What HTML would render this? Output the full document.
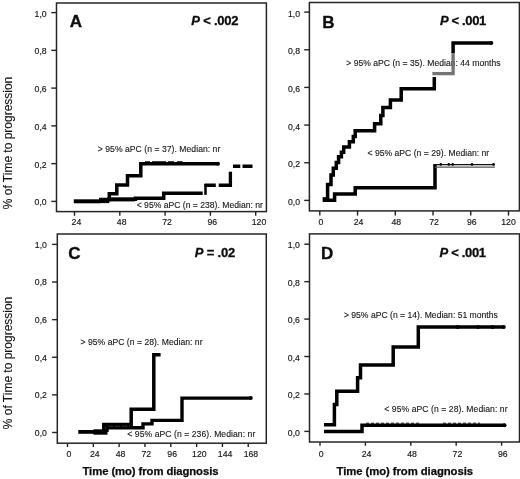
<!DOCTYPE html>
<html><head><meta charset="utf-8"><title>Figure</title>
<style>
html,body{margin:0;padding:0;background:#fff;}
body{width:520px;height:479px;overflow:hidden;font-family:"Liberation Sans",sans-serif;}
svg{display:block;will-change:transform;}
.fr{fill:none;stroke:#262626;stroke-width:1.5;}
.ax{stroke:#222;stroke-width:1.4;}
.tk{font-family:"Liberation Sans",sans-serif;font-size:8.7px;fill:#141414;stroke:#141414;stroke-width:0.15;}
.lb{font-family:"Liberation Sans",sans-serif;font-size:8.6px;fill:#161616;stroke:#161616;stroke-width:0.12;}
.pn{font-family:"Liberation Sans",sans-serif;font-size:17px;font-weight:bold;fill:#0c0c0c;stroke:#0c0c0c;stroke-width:0.35;}
.pv{font-family:"Liberation Sans",sans-serif;font-size:13px;font-weight:bold;fill:#0c0c0c;stroke:#0c0c0c;stroke-width:0.3;}
.yt{font-family:"Liberation Sans",sans-serif;font-size:12px;fill:#141414;stroke:#141414;stroke-width:0.12;}
.xt{font-family:"Liberation Sans",sans-serif;font-size:11.3px;font-weight:bold;fill:#0c0c0c;stroke:#0c0c0c;stroke-width:0.25;}
.cv{fill:none;stroke:#000;stroke-width:3.5;stroke-linejoin:miter;stroke-linecap:butt;}
.gv{fill:none;stroke:#747474;stroke-width:3.3;stroke-linejoin:miter;}
</style></head><body>
<svg width="520" height="479" viewBox="0 0 520 479">
<rect width="520" height="479" fill="#fff"/>
<g id="pA">
<rect x="56.5" y="3" width="209.90" height="208.60" class="fr"/>
<line x1="51.3" y1="201.40" x2="56.5" y2="201.40" class="ax"/>
<text x="46.70" y="205.30" class="tk" text-anchor="end">0,0</text>
<line x1="51.3" y1="163.64" x2="56.5" y2="163.64" class="ax"/>
<text x="46.70" y="167.54" class="tk" text-anchor="end">0,2</text>
<line x1="51.3" y1="125.88" x2="56.5" y2="125.88" class="ax"/>
<text x="46.70" y="129.78" class="tk" text-anchor="end">0,4</text>
<line x1="51.3" y1="88.12" x2="56.5" y2="88.12" class="ax"/>
<text x="46.70" y="92.02" class="tk" text-anchor="end">0,6</text>
<line x1="51.3" y1="50.36" x2="56.5" y2="50.36" class="ax"/>
<text x="46.70" y="54.26" class="tk" text-anchor="end">0,8</text>
<line x1="51.3" y1="12.60" x2="56.5" y2="12.60" class="ax"/>
<text x="46.70" y="16.50" class="tk" text-anchor="end">1,0</text>
<line x1="74.50" y1="211.6" x2="74.50" y2="215.8" class="ax"/>
<text x="76.40" y="225.4" class="tk" text-anchor="middle">24</text>
<line x1="119.80" y1="211.6" x2="119.80" y2="215.8" class="ax"/>
<text x="121.70" y="225.4" class="tk" text-anchor="middle">48</text>
<line x1="165.10" y1="211.6" x2="165.10" y2="215.8" class="ax"/>
<text x="167.00" y="225.4" class="tk" text-anchor="middle">72</text>
<line x1="210.40" y1="211.6" x2="210.40" y2="215.8" class="ax"/>
<text x="212.30" y="225.4" class="tk" text-anchor="middle">96</text>
<line x1="255.70" y1="211.6" x2="255.70" y2="215.8" class="ax"/>
<text x="259.00" y="225.4" class="tk" text-anchor="middle">120</text>
<text x="69.8" y="26.9" class="pn">A</text>
<text x="191.3" y="25.3" class="pv" textLength="47.2" lengthAdjust="spacing"><tspan font-style="italic">P</tspan> &lt; .002</text>
<text x="97.8" y="151.7" class="lb" textLength="122.5" lengthAdjust="spacing">&gt; 95% aPC (n = 37). Median: nr</text>
<text x="136.7" y="207.7" class="lb" textLength="126.2" lengthAdjust="spacing">&lt; 95% aPC (n = 238). Median: nr</text>
<path d="M73.8 201.3 H100" stroke="#000" stroke-width="4" fill="none"/>
<path d="M99 200.7 H109.3" stroke="#000" stroke-width="4.8" fill="none"/>
<path d="M99.00 199.60 L109.30 199.60 L109.30 193.70 L116.80 193.70 L116.80 185.00 L127.50 185.00 L127.50 175.80 L140.80 175.80 L140.80 163.70 L218.00 163.70" class="cv" />
<circle cx="218" cy="163.7" r="2" fill="#000"/>
<path d="M145 161.8 H150 M152 161.8 H166 M168 161.8 H174 M177 161.8 H182.5" stroke="#000" stroke-width="1.2" fill="none"/>
<path d="M107.00 199.30 L135.40 199.30 L135.40 198.20 L163.70 198.20 L163.70 193.30 L202.70 193.30" class="cv" />
<path d="M109 199.5 H135" stroke="#000" stroke-width="3.8" fill="none"/>
<path d="M205.5 194.8 V184" stroke="#000" stroke-width="2.5" fill="none"/>
<path d="M204.5 185.3 H215.8 M218.7 185.3 H230.8" stroke="#000" stroke-width="3.5" fill="none"/>
<path d="M230.4 187 V171.7" stroke="#000" stroke-width="3.3" fill="none"/>
<path d="M233 166.3 H240.3 M242.5 166.3 H252.5" stroke="#000" stroke-width="3.4" fill="none"/>
</g>
<g id="pB">
<rect x="309.4" y="2.5" width="210.00" height="208.40" class="fr"/>
<line x1="304.2" y1="200.40" x2="309.4" y2="200.40" class="ax"/>
<text x="300.00" y="204.90" class="tk" text-anchor="end">0,0</text>
<line x1="304.2" y1="162.74" x2="309.4" y2="162.74" class="ax"/>
<text x="300.00" y="167.24" class="tk" text-anchor="end">0,2</text>
<line x1="304.2" y1="125.08" x2="309.4" y2="125.08" class="ax"/>
<text x="300.00" y="129.58" class="tk" text-anchor="end">0,4</text>
<line x1="304.2" y1="87.42" x2="309.4" y2="87.42" class="ax"/>
<text x="300.00" y="91.92" class="tk" text-anchor="end">0,6</text>
<line x1="304.2" y1="49.76" x2="309.4" y2="49.76" class="ax"/>
<text x="300.00" y="54.26" class="tk" text-anchor="end">0,8</text>
<line x1="304.2" y1="12.10" x2="309.4" y2="12.10" class="ax"/>
<text x="300.00" y="16.60" class="tk" text-anchor="end">1,0</text>
<line x1="319.80" y1="210.9" x2="319.80" y2="215.6" class="ax"/>
<text x="320.80" y="225.0" class="tk" text-anchor="middle">0</text>
<line x1="357.54" y1="210.9" x2="357.54" y2="215.6" class="ax"/>
<text x="358.54" y="225.0" class="tk" text-anchor="middle">24</text>
<line x1="395.28" y1="210.9" x2="395.28" y2="215.6" class="ax"/>
<text x="396.28" y="225.0" class="tk" text-anchor="middle">48</text>
<line x1="433.02" y1="210.9" x2="433.02" y2="215.6" class="ax"/>
<text x="434.02" y="225.0" class="tk" text-anchor="middle">72</text>
<line x1="470.76" y1="210.9" x2="470.76" y2="215.6" class="ax"/>
<text x="471.76" y="225.0" class="tk" text-anchor="middle">96</text>
<line x1="508.50" y1="210.9" x2="508.50" y2="215.6" class="ax"/>
<text x="508.50" y="225.0" class="tk" text-anchor="middle">120</text>
<text x="322.2" y="28.1" class="pn">B</text>
<text x="440" y="25.2" class="pv" textLength="46.3" lengthAdjust="spacing"><tspan font-style="italic">P</tspan> &lt; .001</text>
<text x="346.2" y="65.6" class="lb" textLength="154.3" lengthAdjust="spacing">&gt; 95% aPC (n = 35). Median: 44 months</text>
<text x="367.5" y="155.7" class="lb" textLength="121.7" lengthAdjust="spacing">&lt; 95% aPC (n = 29). Median: nr</text>
<path d="M432.4 73.6 H453.1 V52.5" class="gv"/>
<rect x="322.6" y="197.2" width="6" height="4.6" fill="#000"/>
<path d="M323.00 199.50 L327.60 199.50 L327.60 184.40 L331.00 184.40 L331.00 175.00 L333.30 175.00 L333.30 168.30 L336.30 168.30 L336.30 162.50 L338.60 162.50 L338.60 156.80 L341.40 156.80 L341.40 152.20 L343.70 152.20 L343.70 147.10 L349.40 147.10 L349.40 141.80 L353.30 141.80 L353.30 136.60 L355.20 136.60 L355.20 130.80 L374.60 130.80 L374.60 123.70 L380.80 123.70 L380.80 115.60 L382.90 115.60 L382.90 107.50 L390.40 107.50 L390.40 99.90 L401.20 99.90 L401.20 88.70 L434.30 88.70 L434.30 77.00" class="cv" />
<path d="M453.10 53.00 L453.10 43.10 L491.30 43.10" class="cv" />
<circle cx="491.3" cy="43.1" r="2" fill="#000"/>
<path d="M323.00 200.20 L334.60 200.20 L334.60 194.00 L355.20 194.00 L355.20 187.80 L435.00 187.80 L435.00 164.40" class="cv" />
<path d="M433.4 164.7 H495" stroke="#111" stroke-width="1.3" fill="none"/>
<path d="M435 167.2 H495" stroke="#555" stroke-width="1.3" fill="none"/>
<circle cx="440.8" cy="164.4" r="1.3" fill="#000"/>
<circle cx="448.8" cy="164.4" r="1.3" fill="#000"/>
<circle cx="452.7" cy="164.4" r="1.3" fill="#000"/>
<circle cx="472" cy="164.4" r="1.3" fill="#000"/>
<circle cx="493.5" cy="164.4" r="1.3" fill="#000"/>
</g>
<g id="pC">
<rect x="57.3" y="234" width="209.00" height="209.20" class="fr"/>
<line x1="52.099999999999994" y1="432.50" x2="57.3" y2="432.50" class="ax"/>
<text x="46.90" y="435.90" class="tk" text-anchor="end">0,0</text>
<line x1="52.099999999999994" y1="394.88" x2="57.3" y2="394.88" class="ax"/>
<text x="46.90" y="398.28" class="tk" text-anchor="end">0,2</text>
<line x1="52.099999999999994" y1="357.26" x2="57.3" y2="357.26" class="ax"/>
<text x="46.90" y="360.66" class="tk" text-anchor="end">0,4</text>
<line x1="52.099999999999994" y1="319.64" x2="57.3" y2="319.64" class="ax"/>
<text x="46.90" y="323.04" class="tk" text-anchor="end">0,6</text>
<line x1="52.099999999999994" y1="282.02" x2="57.3" y2="282.02" class="ax"/>
<text x="46.90" y="285.42" class="tk" text-anchor="end">0,8</text>
<line x1="52.099999999999994" y1="244.40" x2="57.3" y2="244.40" class="ax"/>
<text x="46.90" y="247.80" class="tk" text-anchor="end">1,0</text>
<line x1="67.50" y1="443.2" x2="67.50" y2="447" class="ax"/>
<text x="68.90" y="456.8" class="tk" text-anchor="middle">0</text>
<line x1="93.32" y1="443.2" x2="93.32" y2="447" class="ax"/>
<text x="94.72" y="456.8" class="tk" text-anchor="middle">24</text>
<line x1="119.14" y1="443.2" x2="119.14" y2="447" class="ax"/>
<text x="120.54" y="456.8" class="tk" text-anchor="middle">48</text>
<line x1="144.96" y1="443.2" x2="144.96" y2="447" class="ax"/>
<text x="146.36" y="456.8" class="tk" text-anchor="middle">72</text>
<line x1="170.78" y1="443.2" x2="170.78" y2="447" class="ax"/>
<text x="172.18" y="456.8" class="tk" text-anchor="middle">96</text>
<line x1="196.60" y1="443.2" x2="196.60" y2="447" class="ax"/>
<text x="199.30" y="456.8" class="tk" text-anchor="middle">120</text>
<line x1="222.42" y1="443.2" x2="222.42" y2="447" class="ax"/>
<text x="225.12" y="456.8" class="tk" text-anchor="middle">144</text>
<line x1="248.24" y1="443.2" x2="248.24" y2="447" class="ax"/>
<text x="250.94" y="456.8" class="tk" text-anchor="middle">168</text>
<text x="68.3" y="258.8" class="pn">C</text>
<text x="194.7" y="256.8" class="pv" textLength="40.5" lengthAdjust="spacing"><tspan font-style="italic">P</tspan> = .02</text>
<text x="80.5" y="345" class="lb" textLength="122" lengthAdjust="spacing">&gt; 95% aPC (n = 28). Median: nr</text>
<text x="127.3" y="437" class="lb" textLength="128" lengthAdjust="spacing">&lt; 95% aPC (n = 236). Median: nr</text>
<path d="M78.3 431.9 H95" stroke="#000" stroke-width="3.8" fill="none"/>
<path d="M93.5 432 H107.5" stroke="#000" stroke-width="5.4" fill="none"/>
<path d="M103.80 430.00 L103.80 424.60 L131.20 424.60 L131.20 409.20 L153.80 409.20 L153.80 354.70 L160.60 354.70" class="cv" />
<path d="M107 432 V427.7 H143 V423.9 H152 V420.4 H182 V398.1 H251" stroke="#000" stroke-width="3.4" fill="none"/>
<path d="M108 426.2 H130" stroke="#5a5a5a" stroke-width="0.6" stroke-dasharray="5 2" fill="none"/>
<circle cx="250.8" cy="398.1" r="2" fill="#000"/>
<text x="82.5" y="475.4" class="xt" textLength="136" lengthAdjust="spacing">Time (mo) from diagnosis</text>
</g>
<g id="pD">
<rect x="309.5" y="233.9" width="210.00" height="208.10" class="fr"/>
<line x1="304.3" y1="431.40" x2="309.5" y2="431.40" class="ax"/>
<text x="299.90" y="435.60" class="tk" text-anchor="end">0,0</text>
<line x1="304.3" y1="393.96" x2="309.5" y2="393.96" class="ax"/>
<text x="299.90" y="398.16" class="tk" text-anchor="end">0,2</text>
<line x1="304.3" y1="356.52" x2="309.5" y2="356.52" class="ax"/>
<text x="299.90" y="360.72" class="tk" text-anchor="end">0,4</text>
<line x1="304.3" y1="319.08" x2="309.5" y2="319.08" class="ax"/>
<text x="299.90" y="323.28" class="tk" text-anchor="end">0,6</text>
<line x1="304.3" y1="281.64" x2="309.5" y2="281.64" class="ax"/>
<text x="299.90" y="285.84" class="tk" text-anchor="end">0,8</text>
<line x1="304.3" y1="244.20" x2="309.5" y2="244.20" class="ax"/>
<text x="299.90" y="248.40" class="tk" text-anchor="end">1,0</text>
<line x1="320.00" y1="442" x2="320.00" y2="445.8" class="ax"/>
<text x="321.20" y="456.7" class="tk" text-anchor="middle">0</text>
<line x1="365.40" y1="442" x2="365.40" y2="445.8" class="ax"/>
<text x="366.60" y="456.7" class="tk" text-anchor="middle">24</text>
<line x1="410.80" y1="442" x2="410.80" y2="445.8" class="ax"/>
<text x="412.00" y="456.7" class="tk" text-anchor="middle">48</text>
<line x1="456.20" y1="442" x2="456.20" y2="445.8" class="ax"/>
<text x="457.40" y="456.7" class="tk" text-anchor="middle">72</text>
<line x1="501.60" y1="442" x2="501.60" y2="445.8" class="ax"/>
<text x="502.80" y="456.7" class="tk" text-anchor="middle">96</text>
<text x="320.9" y="259" class="pn">D</text>
<text x="439.6" y="256.6" class="pv" textLength="46.5" lengthAdjust="spacing"><tspan font-style="italic">P</tspan> &lt; .001</text>
<text x="343.9" y="318.4" class="lb" textLength="153.9" lengthAdjust="spacing">&gt; 95% aPC (n = 14). Median: 51 months</text>
<text x="384.3" y="411.5" class="lb" textLength="123.2" lengthAdjust="spacing">&lt; 95% aPC (n = 28). Median: nr</text>
<path d="M324.00 424.80 L334.40 424.80 L334.40 404.50 L336.80 404.50 L336.80 391.20 L357.60 391.20 L357.60 377.80 L360.50 377.80 L360.50 365.00 L393.20 365.00 L393.20 347.00 L418.30 347.00 L418.30 327.10 L504.30 327.10" class="cv" />
<path d="M324.00 431.60 L362.00 431.60 L362.00 425.20 L504.80 425.20" class="cv" />
<path d="M366 423.2 H420 M443 423.2 H480" stroke="#000" stroke-width="0.9" stroke-dasharray="3 2" fill="none"/>
<circle cx="457.6" cy="327.1" r="2" fill="#000"/>
<circle cx="477.9" cy="327.1" r="2" fill="#000"/>
<circle cx="492.6" cy="327.1" r="2" fill="#000"/>
<circle cx="503.8" cy="327.1" r="2" fill="#000"/>
<circle cx="504.5" cy="425.2" r="2" fill="#000"/>
<text x="336.5" y="475.4" class="xt" textLength="136.5" lengthAdjust="spacing">Time (mo) from diagnosis</text>
</g>
<text class="yt" transform="translate(12.2,209.2) rotate(-90)" textLength="132.5" lengthAdjust="spacing">% of Time to progression</text>
<text class="yt" transform="translate(12.2,429.2) rotate(-90)" textLength="132.5" lengthAdjust="spacing">% of Time to progression</text>
</svg></body></html>
